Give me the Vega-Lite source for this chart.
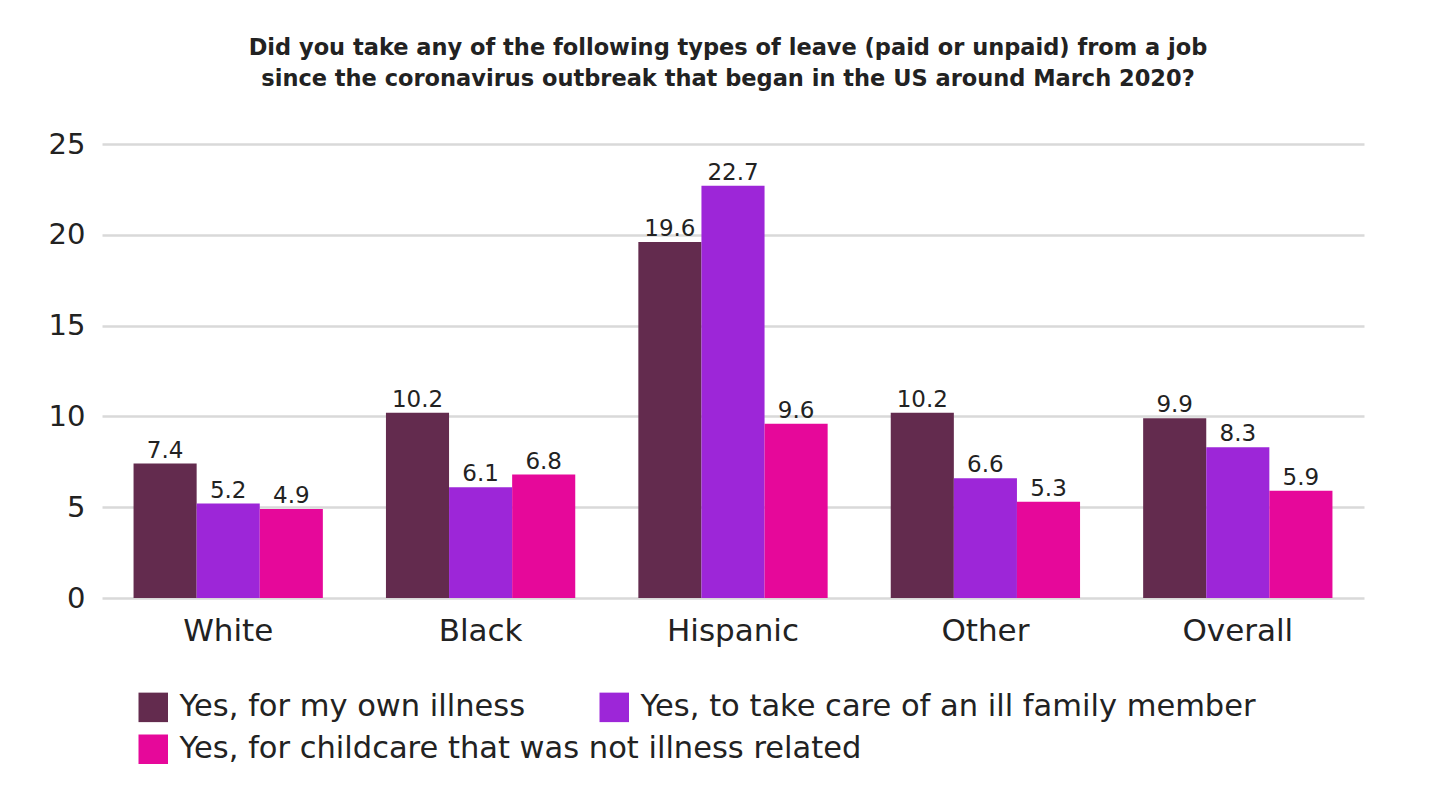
{
  "$schema": "https://vega.github.io/schema/vega-lite/v6.json",
  "width": 1262,
  "height": 454,
  "padding": {"left": 102, "top": 144, "right": 89, "bottom": 193},
  "autosize": {"type": "none"},
  "background": "white",
  "title": {
    "text": ["Did you take any of the following types of leave (paid or unpaid) from a job", "since the coronavirus outbreak that began in the US around March 2020?"],
    "anchor": "middle",
    "frame": "group",
    "dx": -5,
    "offset": 40,
    "fontSize": 22.5,
    "fontWeight": "bold",
    "lineHeight": 31,
    "color": "#222222",
    "font": "DejaVu Sans"
  },
  "data": {
    "values": [
      {"group": "White", "type": "Yes, for my own illness", "value": 7.4},
      {"group": "White", "type": "Yes, to take care of an ill family member", "value": 5.2},
      {"group": "White", "type": "Yes, for childcare that was not illness related", "value": 4.9},
      {"group": "Black", "type": "Yes, for my own illness", "value": 10.2},
      {"group": "Black", "type": "Yes, to take care of an ill family member", "value": 6.1},
      {"group": "Black", "type": "Yes, for childcare that was not illness related", "value": 6.8},
      {"group": "Hispanic", "type": "Yes, for my own illness", "value": 19.6},
      {"group": "Hispanic", "type": "Yes, to take care of an ill family member", "value": 22.7},
      {"group": "Hispanic", "type": "Yes, for childcare that was not illness related", "value": 9.6},
      {"group": "Other", "type": "Yes, for my own illness", "value": 10.2},
      {"group": "Other", "type": "Yes, to take care of an ill family member", "value": 6.6},
      {"group": "Other", "type": "Yes, for childcare that was not illness related", "value": 5.3},
      {"group": "Overall", "type": "Yes, for my own illness", "value": 9.9},
      {"group": "Overall", "type": "Yes, to take care of an ill family member", "value": 8.3},
      {"group": "Overall", "type": "Yes, for childcare that was not illness related", "value": 5.9}
    ]
  },
  "encoding": {
    "x": {
      "field": "group",
      "type": "nominal",
      "sort": ["White", "Black", "Hispanic", "Other", "Overall"],
      "scale": {"paddingInner": 0.25, "paddingOuter": 0.125},
      "axis": {
        "title": null,
        "labelAngle": 0,
        "labelFontSize": 31,
        "labelFont": "DejaVu Sans",
        "labelColor": "#222222",
        "labelPadding": 18,
        "ticks": false,
        "domain": false
      }
    },
    "xOffset": {
      "field": "type",
      "type": "nominal",
      "sort": ["Yes, for my own illness", "Yes, to take care of an ill family member", "Yes, for childcare that was not illness related"]
    },
    "y": {
      "field": "value",
      "type": "quantitative",
      "scale": {"domain": [0, 25], "nice": false},
      "axis": {
        "title": null,
        "values": [0, 5, 10, 15, 20, 25],
        "labelFontSize": 29,
        "labelFont": "DejaVu Sans",
        "labelColor": "#222222",
        "labelPadding": 17,
        "ticks": false,
        "domain": false,
        "gridColor": "#d9d9d9",
        "gridWidth": 2.5
      }
    }
  },
  "layer": [
    {
      "mark": {"type": "bar", "strokeWidth": 0},
      "encoding": {
        "color": {
          "field": "type",
          "type": "nominal",
          "sort": ["Yes, for my own illness", "Yes, to take care of an ill family member", "Yes, for childcare that was not illness related"],
          "scale": {"range": ["#632b4e", "#9d26d8", "#e6089a"]},
          "legend": {
            "title": null,
            "orient": "none",
            "legendX": 36,
            "legendY": 548,
            "direction": "horizontal",
            "values": ["Yes, for my own illness", "Yes, to take care of an ill family member"],
            "columnPadding": 73,
            "symbolType": "square",
            "symbolSize": 870,
            "symbolStrokeWidth": 0,
            "symbolOpacity": 1,
            "labelFontSize": 30.5,
            "labelFont": "DejaVu Sans",
            "labelColor": "#222222",
            "labelOffset": 11,
            "labelLimit": 800
          }
        },
        "stroke": {
          "field": "type",
          "type": "nominal",
          "sort": ["Yes, for my own illness", "Yes, to take care of an ill family member", "Yes, for childcare that was not illness related"],
          "scale": {"range": ["#632b4e", "#9d26d8", "#e6089a"]},
          "legend": {
            "title": null,
            "orient": "none",
            "legendX": 36,
            "legendY": 590,
            "direction": "horizontal",
            "values": ["Yes, for childcare that was not illness related"],
            "symbolType": "square",
            "symbolSize": 870,
            "symbolStrokeWidth": 0,
            "symbolFillColor": "#e6089a",
            "symbolOpacity": 1,
            "labelFontSize": 30.5,
            "labelFont": "DejaVu Sans",
            "labelColor": "#222222",
            "labelOffset": 11,
            "labelLimit": 800
          }
        }
      }
    },
    {
      "mark": {"type": "text", "baseline": "bottom", "dy": -1, "fontSize": 23, "font": "DejaVu Sans", "color": "#222222"},
      "encoding": {
        "text": {"field": "value", "type": "quantitative", "format": ".1f"}
      }
    }
  ],
  "config": {
    "view": {"stroke": null}
  }
}
